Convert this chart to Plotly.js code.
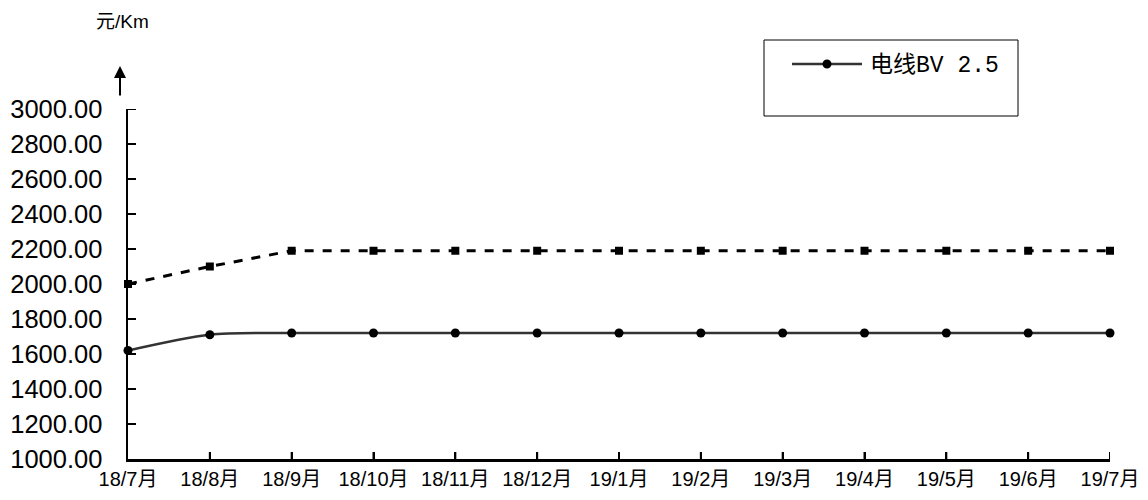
<!DOCTYPE html>
<html><head><meta charset="utf-8">
<script src="https://cdn.plot.ly/plotly-3.0.1.min.js"></script>
<style>html,body{margin:0;padding:0;background:#fff;}#chart{width:1148px;height:500px;}</style>
</head><body><div id="chart"></div>
<script>
const categories = ["18/7月","18/8月","18/9月","18/10月","18/11月","18/12月","19/1月","19/2月","19/3月","19/4月","19/5月","19/6月","19/7月"];
const wireBV25 = [1620,1710,1720,1720,1720,1720,1720,1720,1720,1720,1720,1720,1720];
const dashedSeries = [2000,2100,2190,2190,2190,2190,2190,2190,2190,2190,2190,2190,2190];
const yTicks = [1000,1200,1400,1600,1800,2000,2200,2400,2600,2800,3000];
const seriesName = "电线BV 2.5";
const unitLabel = "元/Km";

const W = 1148, H = 500, L = 128, R = 38, T = 109, B = 41;
const pw = W - L - R, ph = H - T - B;
const px = x => (x - L) / pw;
const py = y => (H - B - y) / ph;

const traces = [
  {x: categories, y: dashedSeries, type: "scatter", mode: "lines+markers", showlegend: false,
   line: {color: "#000", width: 3, dash: "9px,9px"}, marker: {symbol: "square", size: 8, color: "#000"}, cliponaxis: false},
  {x: categories, y: wireBV25, type: "scatter", mode: "lines+markers", name: seriesName, showlegend: false,
   line: {color: "#333", width: 2.5, shape: "spline", smoothing: 0.8}, marker: {symbol: "circle", size: 9, color: "#000"}, cliponaxis: false}
];

const tickShapes = [];
categories.forEach((c, i) => {
  if (i === 0) return;
  tickShapes.push({type: "line", xref: "x", yref: "paper", x0: i, x1: i, y0: 0, y1: 7 / ph,
    line: {color: "#000", width: 2}});
});
yTicks.forEach((v, i) => {
  if (i === 0) return;
  tickShapes.push({type: "line", xref: "paper", yref: "y", x0: 0, x1: 8 / pw, y0: v, y1: v,
    line: {color: "#000", width: 2}});
});

const layout = {
  width: W, height: H,
  margin: {l: L, r: R, t: T, b: B, pad: 0},
  paper_bgcolor: "#fff", plot_bgcolor: "#fff",
  font: {family: "Liberation Sans, Arial, Noto Sans CJK SC", color: "#000"},
  xaxis: {type: "category", range: [0, categories.length - 1], showgrid: false, zeroline: false,
    showline: true, linecolor: "#000", linewidth: 2.5, ticks: "inside", ticklen: 7, tickwidth: 2, tickcolor: "#000",
    tickfont: {size: 20, family: "Liberation Sans, Noto Sans CJK SC"}, layer: "above traces"},
  yaxis: {range: [1000, 3000], tickmode: "array", tickvals: yTicks, ticktext: yTicks.map(v => v.toFixed(2)),
    showgrid: false, zeroline: false, showline: true, linecolor: "#000", linewidth: 2.5,
    ticks: "inside", ticklen: 8, tickwidth: 2, tickcolor: "#000",
    tickfont: {size: 25.5, family: "Liberation Sans, Arial"}, ticklabelstandoff: 18, layer: "above traces"},
  shapes: [
    {type: "rect", xref: "paper", yref: "paper", x0: px(764), x1: px(1018), y0: py(116), y1: py(40),
     line: {color: "#000", width: 1}, fillcolor: "rgba(0,0,0,0)"},
    {type: "line", xref: "paper", yref: "paper", x0: px(792), x1: px(862), y0: py(64), y1: py(64),
     line: {color: "#333", width: 2.5}},
    {type: "circle", xref: "paper", yref: "paper", x0: px(822.5), x1: px(831.5), y0: py(68.5), y1: py(59.5),
     line: {color: "#000", width: 0}, fillcolor: "#000"}
  ].concat(tickShapes),
  annotations: [
    {xref: "paper", yref: "paper", x: px(868), y: py(65), xanchor: "left", yanchor: "middle",
     text: seriesName, showarrow: false, font: {size: 23, family: "Liberation Mono, Noto Sans CJK SC", color: "#000"}},
    {xref: "paper", yref: "paper", x: px(94), y: py(21), xanchor: "left", yanchor: "middle",
     text: unitLabel, showarrow: false, font: {size: 19, family: "Liberation Sans, Noto Sans CJK SC", color: "#000"}},
    {xref: "paper", yref: "paper", x: px(120), y: py(66), ax: 0, ay: 31, text: "", showarrow: true,
     arrowhead: 2, arrowsize: 1.2, arrowwidth: 2, arrowcolor: "#000"}
  ]
};

Plotly.newPlot("chart", traces, layout, {displayModeBar: false, staticPlot: true});
</script></body></html>
